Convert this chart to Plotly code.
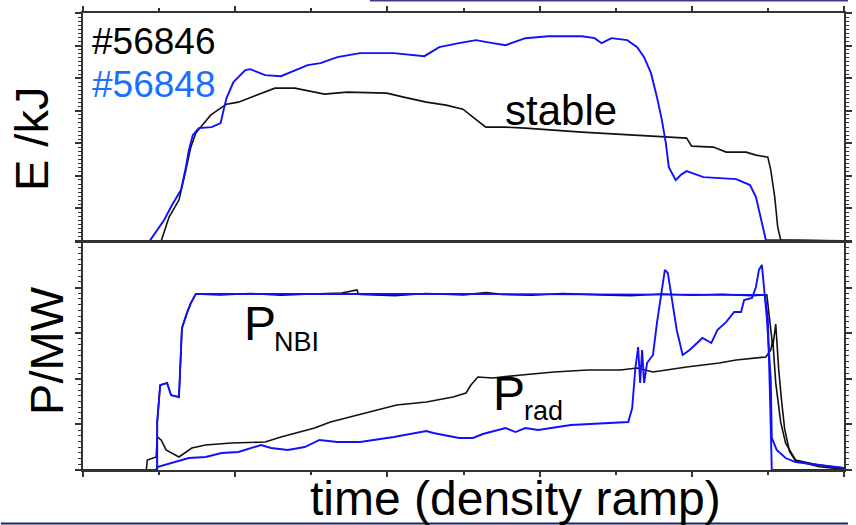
import plotly.graph_objects as go

# ---------------- data (arbitrary time units 0..10) ----------------
# stored energy E (top panel)
t_E_56846 = [0, 1.027, 1.131, 1.261, 1.352, 1.417, 1.482, 1.586, 1.677, 1.808, 1.886, 2.042, 2.211,
             2.393, 2.523, 2.783, 2.991, 3.173, 3.472, 3.992, 4.213, 4.512, 4.772, 4.993, 5.124,
             5.293, 5.553, 5.813, 6.554, 7.204, 7.633, 7.932, 7.997, 8.283, 8.453, 8.713, 8.843,
             8.999, 9.038, 9.090, 9.129, 9.168, 10]
E_56846 = [0, 0, 0.736, 1.258, 2.178, 2.883, 3.313, 3.620, 3.865, 4.080, 4.202, 4.264, 4.417,
           4.571, 4.693, 4.693, 4.601, 4.509, 4.571, 4.540, 4.417, 4.264, 4.172, 4.049, 3.804,
           3.497, 3.497, 3.466, 3.344, 3.252, 3.190, 3.160, 2.914, 2.883, 2.730, 2.730, 2.638,
           2.577, 2.178, 1.350, 0.429, 0.031, 0]

t_E_56848 = [0, 0.871, 0.884, 1.066, 1.170, 1.287, 1.352, 1.391, 1.443, 1.521, 1.690, 1.808, 1.847,
             1.886, 1.977, 2.133, 2.198, 2.393, 2.601, 2.783, 2.952, 3.121, 3.342, 3.641, 4.083,
             4.486, 4.681, 4.941, 5.163, 5.384, 5.553, 5.813, 6.112, 6.554, 6.723, 6.814, 6.944,
             7.152, 7.282, 7.373, 7.464, 7.542, 7.607, 7.659, 7.698, 7.789, 7.854, 7.932, 8.153,
             8.583, 8.765, 8.843, 8.908, 8.973, 10]
E_56848 = [0, 0, 0.03, 0.644, 1.104, 1.564, 2.270, 2.791, 3.252, 3.466, 3.497, 3.620, 4.018,
           4.387, 4.877, 5.245, 5.276, 5.092, 5.061, 5.245, 5.399, 5.460, 5.644, 5.767, 5.767,
           5.675, 5.951, 6.074, 6.166, 6.074, 6.012, 6.227, 6.288, 6.288, 6.227, 6.074, 6.227,
           6.166, 5.951, 5.644, 5.153, 4.417, 3.712, 3.006, 2.270, 1.871, 2.025, 2.147, 1.963,
           1.902, 1.718, 1.350, 0.644, 0.031, 0]

# heating power P_NBI (bottom panel)
t_NBI_56846 = [0, 0.975, 0.975, 1.014, 1.105, 1.157, 1.261, 1.274, 1.300, 1.365, 1.417, 1.482, 1.8,
               2.2, 2.6, 3.0, 3.4, 3.6, 3.62, 3.65, 4.1, 4.5, 5.0, 5.3, 5.5, 5.9, 6.3, 6.8, 7.2,
               7.6, 8.0, 8.4, 8.8, 8.986, 9.025, 9.064, 9.103, 9.142, 9.181, 9.220, 9.285, 9.363,
               9.675, 10]
NBI_56846 = [0, 0, 1.05, 1.86, 1.91, 1.64, 1.60, 2.24, 3.11, 3.44, 3.66, 3.86, 3.84,
             3.87, 3.83, 3.86, 3.88, 3.95, 3.86, 3.85, 3.82, 3.87, 3.84, 3.89, 3.85, 3.83, 3.87,
             3.84, 3.82, 3.86, 3.83, 3.85, 3.82, 3.84, 3.3, 2.7, 3.2, 2.2, 1.5, 0.9, 0.4, 0.2,
             0.07, 0.02]

t_NBI_56848 = [0, 0.975, 0.975, 1.014, 1.105, 1.157, 1.261, 1.274, 1.300, 1.365, 1.417, 1.482,
               5.0, 8.960, 8.999, 9.025, 9.051, 10]
NBI_56848 = [0, 0, 1.05, 1.86, 1.91, 1.64, 1.60, 2.24, 3.11, 3.44, 3.66, 3.86,
             3.86, 3.84, 3.33, 1.80, 0, 0]

# radiated power P_rad (bottom panel)
t_rad_56846 = [0, 0.832, 0.845, 0.962, 0.975, 1.027, 1.092, 1.261, 1.430, 1.612, 1.951, 2.393,
               2.601, 3.043, 3.251, 3.693, 4.122, 4.512, 4.863, 5.033, 5.098, 5.189, 5.384, 5.761,
               6.190, 6.632, 7.061, 7.282, 7.490, 7.932, 8.361, 8.583, 8.791, 8.973, 9.038, 9.064,
               9.103, 9.168, 9.233, 9.363, 9.662, 10]
rad_56846 = [0, 0, 0.219, 0.285, 0.724, 0.658, 0.439, 0.285, 0.482, 0.548, 0.592, 0.614,
             0.724, 0.921, 1.053, 1.250, 1.425, 1.491, 1.601, 1.689, 1.864, 2.039, 2.018, 2.083,
             2.149, 2.193, 2.193, 2.237, 2.149, 2.259, 2.346, 2.412, 2.456, 2.478, 2.63, 2.85,
             1.91, 1.05, 0.59, 0.22, 0.11, 0.04]

t_rad_56848 = [0, 0.962, 0.975, 1.170, 1.391, 1.612, 1.821, 2.042, 2.263, 2.341, 2.471, 2.692,
               2.913, 3.108, 3.342, 3.641, 4.083, 4.512, 4.603, 4.941, 5.124, 5.254, 5.553, 5.683,
               5.813, 5.982, 6.411, 6.840, 7.165, 7.217, 7.256, 7.295, 7.321, 7.347, 7.373, 7.412,
               7.490, 7.542, 7.607, 7.646, 7.685, 7.737, 7.802, 7.880, 7.971, 8.140, 8.257, 8.336,
               8.453, 8.557, 8.648, 8.687, 8.791, 8.843, 8.882, 8.921, 8.947, 8.986, 9.038, 9.051,
               9.116, 9.233, 9.363, 9.662, 10]
rad_56848 = [0, 0, 0.066, 0.154, 0.263, 0.285, 0.373, 0.395, 0.504, 0.548, 0.482, 0.439,
             0.504, 0.658, 0.614, 0.614, 0.724, 0.855, 0.811, 0.702, 0.702, 0.789, 0.921, 0.833,
             0.921, 0.877, 0.987, 1.031, 1.053, 1.360, 2.193, 2.697, 1.908, 2.632, 1.908, 2.346,
             2.522, 3.224, 3.947, 4.386, 4.320, 3.794, 3.070, 2.522, 2.632, 2.895, 2.785, 3.070,
             3.246, 3.465, 3.465, 3.728, 3.772, 4.013, 4.386, 4.496, 4.013, 3.333, 1.974, 0.702,
             0.439, 0.263, 0.175, 0.110, 0.044]

shot_labels = ["#56846", "#56848"]

# ---------------- figure ----------------
W, H = 856, 525
ML, MR, MT, MB = 83, 4, 13, 55
PW, PH = W - ML - MR, H - MT - MB

def px(x):
    return (x - ML) / PW

def py(y):
    return (H - MB - y) / PH

BLACK = "#111111"
BLUE = "#1010ff"
FONT = "Liberation Sans, Arial, sans-serif"

fig = go.Figure()
line_b = dict(color=BLACK, width=1.6)
line_u = dict(color=BLUE, width=1.9)
fig.add_trace(go.Scatter(x=t_E_56846, y=E_56846, mode="lines", line=line_b, xaxis="x", yaxis="y"))
fig.add_trace(go.Scatter(x=t_E_56848, y=E_56848, mode="lines", line=line_u, xaxis="x", yaxis="y"))
fig.add_trace(go.Scatter(x=t_NBI_56846, y=NBI_56846, mode="lines", line=line_b, xaxis="x2", yaxis="y2"))
fig.add_trace(go.Scatter(x=t_rad_56846, y=rad_56846, mode="lines", line=line_b, xaxis="x2", yaxis="y2"))
fig.add_trace(go.Scatter(x=t_NBI_56848, y=NBI_56848, mode="lines", line=line_u, xaxis="x2", yaxis="y2"))
fig.add_trace(go.Scatter(x=t_rad_56848, y=rad_56848, mode="lines", line=line_u, xaxis="x2", yaxis="y2"))

AX = "#333333"
common_x = dict(range=[0, 10], showgrid=False, zeroline=False, showticklabels=False,
                showline=True, linecolor=AX, linewidth=2, mirror=True,
                ticks="outside", tick0=0, dtick=2, ticklen=5, tickwidth=1.5, tickcolor=AX,
                minor=dict(dtick=1, ticks="outside", ticklen=3, tickwidth=1.5, tickcolor=AX))
common_y = dict(showgrid=False, zeroline=False, showticklabels=False,
                showline=True, linecolor=AX, linewidth=2, mirror="ticks",
                ticks="outside", tick0=0, dtick=1, ticklen=6, tickwidth=1.5, tickcolor=AX,
                minor=dict(dtick=0.125, ticks="outside", ticklen=3, tickwidth=1, tickcolor=AX))

fig.update_layout(
    width=W, height=H,
    margin=dict(l=ML, r=MR, t=MT, b=MB, pad=0),
    paper_bgcolor="white", plot_bgcolor="white",
    showlegend=False,
    font=dict(family=FONT, color="black"),
    xaxis=dict(common_x, anchor="y", side="top", domain=[0, 1]),
    xaxis2=dict(common_x, anchor="y2", matches="x", domain=[0, 1]),
    yaxis=dict(common_y, anchor="x", domain=[0.501, 1], range=[0, 7]),
    yaxis2=dict(common_y, anchor="x2", domain=[0, 0.499], range=[0, 5]),
)

def ann(text, x, y, size, color="black", xanchor="left", angle=0):
    fig.add_annotation(text=text, x=px(x), y=py(y), xref="paper", yref="paper",
                       xanchor=xanchor, yanchor="middle", showarrow=False, textangle=angle,
                       font=dict(family=FONT, size=size, color=color))

ann(shot_labels[0], 90, 41.5, 37)
ann(shot_labels[1], 90, 85, 37, color="#1a6fff")
ann("stable", 507, 111, 42)
ann("P", 244, 323, 48)
ann("NBI", 274, 342, 27)
ann("P", 495, 393, 48)
ann("rad", 527, 411, 27)
ann("E /kJ", 31.5, 139, 47, xanchor="center", angle=-90)
ann("P/MW", 45.5, 350, 47, xanchor="center", angle=-90)
ann("time (density ramp)", 520, 499, 48, xanchor="center")

# slide border lines visible in the reference
fig.add_shape(type="line", xref="paper", yref="paper", x0=px(373), x1=px(856), y0=py(0.8), y1=py(0.8),
              line=dict(color="#3c3c8c", width=1.5))
fig.add_shape(type="line", xref="paper", yref="paper", x0=px(0), x1=px(856), y0=py(523.5), y1=py(523.5),
              line=dict(color="#1c2470", width=2))

fig.write_html("out.html")
